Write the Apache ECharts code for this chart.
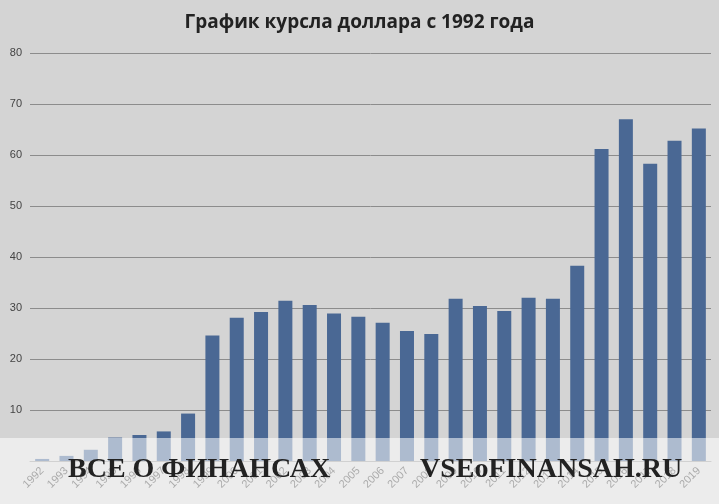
<!DOCTYPE html>
<html>
<head>
    <meta charset="utf-8">
    <title>График курсла доллара</title>
    <script src="https://cdn.jsdelivr.net/npm/echarts@6/dist/echarts.min.js"></script>
</head>
<body style="margin:0">
    <div id="chart" style="width:719px;height:504px;"></div>
    <script>
        const years = ['1992', '1993', '1994', '1995', '1996', '1997', '1998', '1999', '2000', '2001',
            '2002', '2003', '2004', '2005', '2006', '2007', '2008', '2009', '2010', '2011',
            '2012', '2013', '2014', '2015', '2016', '2017', '2018', '2019'];
        const rates = [0.4, 1.0, 2.2, 4.6, 5.1, 5.8, 9.3, 24.6, 28.1, 29.2,
            31.4, 30.6, 28.9, 28.3, 27.1, 25.5, 24.9, 31.8, 30.4, 29.4,
            32.0, 31.8, 38.3, 61.2, 67.0, 58.3, 62.8, 65.2];

        const chart = echarts.init(document.getElementById('chart'));
        chart.setOption({
            backgroundColor: '#d4d4d4',
            title: {
                text: 'График курсла доллара с 1992 года',
                left: 'center', top: 8,
                textStyle: { fontFamily: 'Open Sans', fontSize: 19, fontWeight: 'bold', color: '#222' }
            },
            grid: { left: 30, right: 8, top: 53, bottom: 43 },
            xAxis: {
                type: 'category',
                data: years,
                axisTick: { show: false },
                axisLine: { lineStyle: { color: '#999' } },
                axisLabel: { rotate: 45, fontSize: 11, color: '#444', interval: 0 }
            },
            yAxis: {
                type: 'value', min: 0, max: 80, interval: 10,
                axisLabel: { fontSize: 11, color: '#444', formatter: v => v === 0 ? '' : v },
                splitLine: { lineStyle: { color: '#8c8c8c' } }
            },
            series: [{
                type: 'bar',
                data: rates,
                barWidth: 14,
                itemStyle: { color: '#4a6894' }
            }],
            graphic: [
                { type: 'rect', shape: { x: 0, y: 438, width: 719, height: 66 },
                  style: { fill: 'rgba(255,255,255,0.55)' }, z: 100 },
                { type: 'text', left: 68, top: 456, z: 101,
                  style: { text: 'ВСЕ О ФИНАНСАХ', fontFamily: 'Liberation Serif', fontSize: 28, fontWeight: 'bold', fill: '#222' } },
                { type: 'text', left: 420, top: 456, z: 101,
                  style: { text: 'VSEoFINANSAH.RU', fontFamily: 'Liberation Serif', fontSize: 28, fontWeight: 'bold', fill: '#222' } }
            ]
        });
    </script>
</body>
</html>
